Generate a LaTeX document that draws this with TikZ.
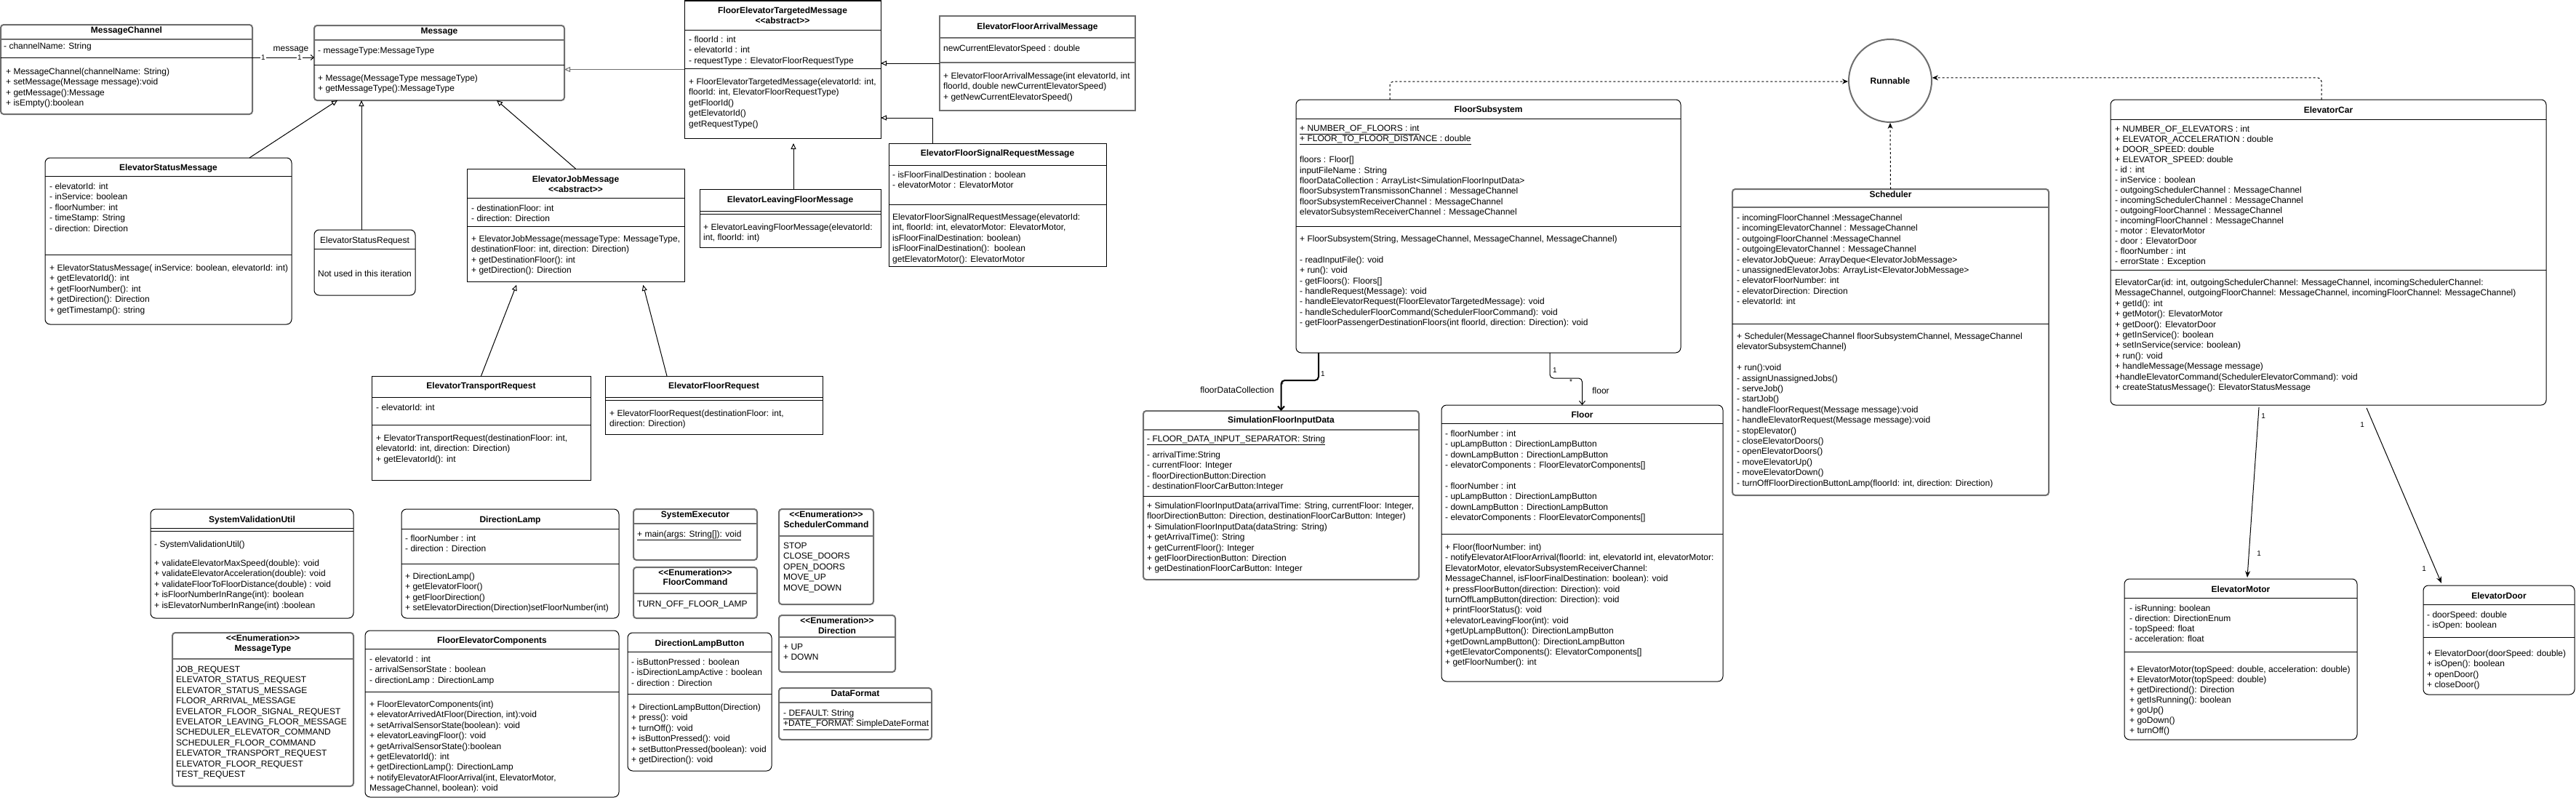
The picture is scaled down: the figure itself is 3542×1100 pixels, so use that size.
\documentclass[tikz,border=0pt]{standalone}
\usepackage{fontspec}
\setmainfont{Liberation Sans}
\usetikzlibrary{arrows.meta}
\definecolor{gcol}{RGB}{110,110,110}
\newcommand\fs{\fontsize{12}{14.4}\selectfont}
\newcommand\fsa{\fontsize{12}{14}\selectfont}
\newcommand\fss{\fontsize{10}{12}\selectfont}
\newcommand\ubox[6]{\node[#2, minimum width={(#5-#3)*1pt}, minimum height={(#6-#4)*1pt}, anchor=north west] (#1) at (#3,#4) {};}
\newcommand\hln[4][]{\draw[sepl,#1] (#2,#4) -- (#3,#4);}
\newcommand\tx[5][]{\node[txt,#1] (#2) at ({#3},{#4-5.8}) {\strut #5};}
\newcommand\tit[5][]{\node[ttl,#1] (#2) at ({#3},{#4+4.3}) {#5};}
\newcommand\stereo[1]{<{}<#1>{}>}
\tikzset{
  bx/.style={draw=black, line width=1pt, fill=white, inner sep=0pt, outer sep=0pt},
  rbx/.style={bx, rounded corners=7pt},
  gbx/.style={draw=gcol, line width=2pt, fill=white, rounded corners=4pt, inner sep=0pt, outer sep=0pt},
  gbxs/.style={gbx, rounded corners=0pt},
  sepl/.style={line width=1pt, draw=black},
  gsep/.style={line width=2pt, draw=gcol},
  txt/.style={anchor=north west, inner sep=0pt, align=left, font=\fs},
  ttl/.style={anchor=base, inner sep=0pt, font=\fs\bfseries},
  mult/.style={inner sep=1pt, font=\fss, fill=white},
  lbl/.style={inner sep=0pt, font=\fs, anchor=base},
  gen/.style={line width=1pt, -{Triangle[open, length=8pt, width=7pt]}},
  assoc/.style={line width=1pt, -{Straight Barb[length=4pt, width=7pt]}},
  real/.style={line width=1pt, dash pattern=on 3pt off 3pt, rounded corners=5pt, -{Stealth[length=8pt, width=7pt]}},
  thickarr/.style={line width=2pt, rounded corners=5pt, -{Straight Barb[length=5pt, width=9pt]}},
  openarr/.style={line width=1pt, rounded corners=5pt, -{Straight Barb[length=5pt, width=8pt]}},
  filledarr/.style={line width=1pt, -{Stealth[length=9pt, width=7pt]}}
}
\begin{document}
\begin{tikzpicture}[x=1pt,y=-1pt]
\useasboundingbox[fill=white] (0,0) rectangle (3542,1100);

% ---------- boxes ----------
\ubox{MC}{gbx}{1}{34}{347}{157}
\ubox{Msg}{gbx}{432}{35}{776}{138}
\ubox{ESM}{rbx}{62}{217}{401}{446}
\ubox{ESR}{rbx}{432}{316}{571}{406}
\ubox{EJM}{bx}{642}{232}{941}{387}
\ubox{FETM}{bx}{941}{1}{1211}{190}
\ubox{EFAM}{gbxs}{1292}{22}{1561}{152}
\ubox{EFSRM}{bx}{1222}{197}{1521}{366}
\ubox{ELFM}{bx}{962}{260}{1211}{340}
\ubox{ETR}{bx}{511}{517}{812}{660}
\ubox{EFR}{bx}{832}{517}{1131}{597}
\ubox{FS}{rbx}{1782}{137}{2311}{485}
\ubox{Sch}{gbx}{2382}{260}{2817}{681}
\ubox{EC}{rbx}{2902}{137}{3501}{557}
\ubox{SFID}{gbx}{1572}{565}{1951}{797}
\ubox{Floor}{rbx}{1982}{557}{2369}{937}
\ubox{EM}{rbx}{2921}{796}{3241}{1017}
\ubox{ED}{rbx}{3332}{805}{3540}{955}
\ubox{SVU}{rbx}{207}{700}{486}{850}
\ubox{DL}{rbx}{552}{700}{851}{850}
\ubox{SE}{gbx}{871}{700}{1041}{770}
\ubox{FC}{gbx}{871}{780}{1041}{850}
\ubox{SC}{gbx}{1071}{700}{1201}{831}
\ubox{Dir}{gbx}{1071}{846}{1231}{924}
\ubox{DF}{gbx}{1071}{946}{1281}{1017}
\ubox{MT}{gbx}{237}{870}{486}{1081}
\ubox{FEC}{rbx}{502}{867}{851}{1096}
\ubox{DLB}{rbx}{863}{870}{1061}{1060}
\node[circle, draw=gcol, line width=2pt, fill=white, minimum size=114pt, inner sep=0pt, font=\fs\bfseries] (Run) at (2599,111) {Runnable};

% ---------- separators ----------
\hln[gsep]{1}{347}{54} \hln{1}{347}{79}
\hln[gsep]{432}{776}{55} \hln{432}{776}{89}
\hln{62}{401}{242} \hln{62}{401}{350}
\hln{432}{571}{342}
\hln{642}{941}{272} \hln{642}{941}{311}
\hln{941}{1211}{41} \hln{941}{1211}{94}
\hln[gsep]{1292}{1561}{52} \hln[gsep]{1292}{1561}{86}
\hln{1222}{1521}{227} \hln{1222}{1521}{281}
\hln{962}{1211}{290} \hln{962}{1211}{294}
\hln{511}{812}{546} \hln{511}{812}{584}
\hln{832}{1131}{546} \hln{832}{1131}{550}
\hln{1782}{2311}{163} \hln{1782}{2311}{311}
\hln[gsep]{2382}{2817}{285} \hln{2382}{2817}{445}
\hln{2902}{3501}{164} \hln{2902}{3501}{371}
\hln[gsep]{1572}{1951}{591} \hln{1572}{1951}{682}
\hln{1982}{2369}{582} \hln{1982}{2369}{734}
\hln{2921}{3241}{822} \hln{2921}{3241}{896}
\hln{3332}{3540}{831} \hln{3332}{3540}{876}
\hln{207}{486}{726} \hln{207}{486}{730}
\hln{552}{851}{727} \hln{552}{851}{775}
\hln[gsep]{871}{1041}{720}
\hln[gsep]{871}{1041}{816}
\hln[gsep]{1071}{1201}{737}
\hln[gsep]{1071}{1231}{876}
\hln[gsep]{1071}{1281}{966}
\hln[gsep]{237}{486}{906}
\hln{502}{851}{892} \hln{502}{851}{951}
\hln{863}{1061}{896} \hln{863}{1061}{954}

% ---------- texts ----------
% MessageChannel
\tit{mc-t}{174}{41}{MessageChannel}
\tx{mc-a}{5}{63}{- channelName: String}
\tx{mc-m}{8}{98}{+ MessageChannel(channelName: String)\\+ setMessage(Message message):void\\+ getMessage():Message\\+ isEmpty():boolean}
% Message
\tit{msg-t}{604}{42}{Message}
\tx{msg-a}{437}{69}{- messageType:MessageType}
\tx{msg-m}{437}{107}{+ Message(MessageType messageType)\\+ getMessageType():MessageType}
% ElevatorStatusMessage
\tit{esm-t}{231.5}{230}{ElevatorStatusMessage}
\tx{esm-a}{68}{256}{- elevatorId: int\\- inService: boolean\\- floorNumber: int\\- timeStamp: String\\- direction: Direction}
\tx{esm-m}{68}{368}{+ ElevatorStatusMessage( inService: boolean, elevatorId: int)\\+ getElevatorId(): int\\+ getFloorNumber(): int\\+ getDirection(): Direction\\+ getTimestamp(): string}
% ElevatorStatusRequest
\tit[font=\fs]{esr-t}{501.5}{330}{ElevatorStatusRequest}
\tit[font=\fs]{esr-b}{501.5}{376}{Not used in this iteration}
% ElevatorJobMessage
\tit{ejm-t}{791.5}{246}{ElevatorJobMessage}
\tit{ejm-s}{791.5}{260}{\stereo{abstract}}
\tx{ejm-a}{648}{286}{- destinationFloor: int\\- direction: Direction}
\tx{ejm-m}{648}{328}{+ ElevatorJobMessage(messageType: MessageType,\\destinationFloor: int, direction: Direction)\\+ getDestinationFloor(): int\\+ getDirection(): Direction}
% FloorElevatorTargetedMessage
\tit{fetm-t}{1076}{14}{FloorElevatorTargetedMessage}
\tit{fetm-s}{1076}{28}{\stereo{abstract}}
\tx{fetm-a}{947}{54}{- floorId : int\\- elevatorId : int\\- requestType : ElevatorFloorRequestType}
\tx{fetm-m}{947}{112}{+ FloorElevatorTargetedMessage(elevatorId: int,\\floorId: int, ElevatorFloorRequestType)\\getFloorId()\\getElevatorId()\\getRequestType()}
% ElevatorFloorArrivalMessage
\tit{efam-t}{1426.5}{36}{ElevatorFloorArrivalMessage}
\tx{efam-a}{1297}{66}{newCurrentElevatorSpeed : double}
\tx{efam-m}{1297}{104}{+ ElevatorFloorArrivalMessage(int elevatorId, int\\floorId, double newCurrentElevatorSpeed)\\+ getNewCurrentElevatorSpeed()}
% ElevatorFloorSignalRequestMessage
\tit{efsrm-t}{1371.5}{210}{ElevatorFloorSignalRequestMessage}
\tx{efsrm-a}{1227}{240}{- isFloorFinalDestination : boolean\\- elevatorMotor : ElevatorMotor}
\tx{efsrm-m}{1227}{298}{ElevatorFloorSignalRequestMessage(elevatorId:\\int, floorId: int, elevatorMotor: ElevatorMotor,\\isFloorFinalDestination: boolean)\\isFloorFinalDestination():\ \ boolean\\getElevatorMotor(): ElevatorMotor}
% ElevatorLeavingFloorMessage
\tit{elfm-t}{1086.5}{274}{ElevatorLeavingFloorMessage}
\tx{elfm-m}{967}{312}{+ ElevatorLeavingFloorMessage(elevatorId:\\int, floorId: int)}
% ElevatorTransportRequest
\tit{etr-t}{661.5}{530}{ElevatorTransportRequest}
\tx{etr-a}{517}{560}{- elevatorId: int}
\tx{etr-m}{517}{602}{+ ElevatorTransportRequest(destinationFloor: int,\\elevatorId: int, direction: Direction)\\+ getElevatorId(): int}
% ElevatorFloorRequest
\tit{efr-t}{981.5}{530}{ElevatorFloorRequest}
\tx{efr-m}{838}{568}{+ ElevatorFloorRequest(destinationFloor: int,\\direction: Direction)}
% FloorSubsystem
\tit{fs-t}{2046.5}{150}{FloorSubsystem}
\tx{fs-a}{1787}{176}{\underline{+ NUMBER\_OF\_FLOORS : int}\\\underline{+ FLOOR\_TO\_FLOOR\_DISTANCE : double}\\[14.4pt]floors : Floor[]\\inputFileName : String\\floorDataCollection : ArrayList<SimulationFloorInputData>\\floorSubsystemTransmissonChannel : MessageChannel\\floorSubsystemReceiverChannel : MessageChannel\\elevatorSubsystemReceiverChannel : MessageChannel}
\tx{fs-m}{1787}{328}{+ FloorSubsystem(String, MessageChannel, MessageChannel, MessageChannel)\\[14.4pt]- readInputFile(): void\\+ run(): void\\- getFloors(): Floors[]\\- handleRequest(Message): void\\- handleElevatorRequest(FloorElevatorTargetedMessage): void\\- handleSchedulerFloorCommand(SchedulerFloorCommand): void\\- getFloorPassengerDestinationFloors(int floorId, direction: Direction): void}
% Scheduler
\tit{sch-t}{2599.5}{267}{Scheduler}
\tx{sch-a}{2388}{299}{- incomingFloorChannel :MessageChannel\\- incomingElevatorChannel : MessageChannel\\- outgoingFloorChannel :MessageChannel\\- outgoingElevatorChannel : MessageChannel\\- elevatorJobQueue: ArrayDeque<ElevatorJobMessage>\\- unassignedElevatorJobs: ArrayList<ElevatorJobMessage>\\- elevatorFloorNumber: int\\- elevatorDirection: Direction\\- elevatorId: int}
\tx{sch-m}{2388}{462}{+ Scheduler(MessageChannel floorSubsystemChannel, MessageChannel\\elevatorSubsystemChannel)\\[14.4pt]+ run():void\\- assignUnassignedJobs()\\- serveJob()\\- startJob()\\- handleFloorRequest(Message message):void\\- handleElevatorRequest(Message message):void\\- stopElevator()\\- closeElevatorDoors()\\- openElevatorDoors()\\- moveElevatorUp()\\- moveElevatorDown()\\- turnOffFloorDirectionButtonLamp(floorId: int, direction: Direction)}
% ElevatorCar
\tit{ec-t}{3201.5}{151}{ElevatorCar}
\tx[font=\fsa]{ec-a}{2908}{177}{+ NUMBER\_OF\_ELEVATORS : int\\+ ELEVATOR\_ACCELERATION : double\\+ DOOR\_SPEED: double\\+ ELEVATOR\_SPEED: double\\- id : int\\- inService : boolean\\- outgoingSchedulerChannel : MessageChannel\\- incomingSchedulerChannel : MessageChannel\\- outgoingFloorChannel : MessageChannel\\- incomingFloorChannel : MessageChannel\\- motor : ElevatorMotor\\- door : ElevatorDoor\\- floorNumber : int\\- errorState : Exception}
\tx{ec-m}{2908}{388}{ElevatorCar(id: int, outgoingSchedulerChannel: MessageChannel, incomingSchedulerChannel:\\MessageChannel, outgoingFloorChannel: MessageChannel, incomingFloorChannel: MessageChannel)\\+ getId(): int\\+ getMotor(): ElevatorMotor\\+ getDoor(): ElevatorDoor\\+ getInService(): boolean\\+ setInService(service: boolean)\\+ run(): void\\+ handleMessage(Message message)\\+handleElevatorCommand(SchedulerElevatorCommand): void\\+ createStatusMessage(): ElevatorStatusMessage}
% SimulationFloorInputData
\tit{sfid-t}{1761.5}{577}{SimulationFloorInputData}
\tx{sfid-s}{1577}{603}{\underline{- FLOOR\_DATA\_INPUT\_SEPARATOR: String}}
\tx{sfid-a}{1577}{625}{- arrivalTime:String\\- currentFloor: Integer\\- floorDirectionButton:Direction\\- destinationFloorCarButton:Integer}
\tx{sfid-m}{1577}{695}{+ SimulationFloorInputData(arrivalTime: String, currentFloor: Integer,\\floorDirectionButton: Direction, destinationFloorCarButton: Integer)\\+ SimulationFloorInputData(dataString: String)\\+ getArrivalTime(): String\\+ getCurrentFloor(): Integer\\+ getFloorDirectionButton: Direction\\+ getDestinationFloorCarButton: Integer}
% Floor
\tit{fl-t}{2175.5}{570}{Floor}
\tx{fl-a}{1987}{596}{- floorNumber : int\\- upLampButton : DirectionLampButton\\- downLampButton : DirectionLampButton\\- elevatorComponents : FloorElevatorComponents[]\\[14.4pt]- floorNumber : int\\- upLampButton : DirectionLampButton\\- downLampButton : DirectionLampButton\\- elevatorComponents : FloorElevatorComponents[]}
\tx{fl-m}{1987}{752}{+ Floor(floorNumber: int)\\- notifyElevatorAtFloorArrival(floorId: int, elevatorId int, elevatorMotor:\\ElevatorMotor, elevatorSubsystemReceiverChannel:\\MessageChannel, isFloorFinalDestination: boolean): void\\+ pressFloorButton(direction: Direction): void\\turnOffLampButton(direction: Direction): void\\+ printFloorStatus(): void\\+elevatorLeavingFloor(int): void\\+getUpLampButton(): DirectionLampButton\\+getDownLampButton(): DirectionLampButton\\+getElevatorComponents(): ElevatorComponents[]\\+ getFloorNumber(): int}
% ElevatorMotor
\tit{em-t}{3081}{810}{ElevatorMotor}
\tx[font=\fsa]{em-a}{2928}{836}{- isRunning: boolean\\- direction: DirectionEnum\\- topSpeed: float\\- acceleration: float}
\tx[font=\fsa]{em-m}{2928}{920}{+ ElevatorMotor(topSpeed: double, acceleration: double)\\+ ElevatorMotor(topSpeed: double)\\+ getDirectiond(): Direction\\+ getIsRunning(): boolean\\+ goUp()\\+ goDown()\\+ turnOff()}
% ElevatorDoor
\tit{ed-t}{3436}{819}{ElevatorDoor}
\tx{ed-a}{3337}{845}{- doorSpeed: double\\- isOpen: boolean}
\tx{ed-m}{3337}{898}{+ ElevatorDoor(doorSpeed: double)\\+ isOpen(): boolean\\+ openDoor()\\+ closeDoor()}
% SystemValidationUtil
\tit{svu-t}{346.5}{714}{SystemValidationUtil}
\tx{svu-c}{212}{748}{- SystemValidationUtil()}
\tx{svu-m}{212}{774}{+ validateElevatorMaxSpeed(double): void\\+ validateElevatorAcceleration(double): void\\+ validateFloorToFloorDistance(double) : void\\+ isFloorNumberInRange(int): boolean\\+ isElevatorNumberInRange(int) :boolean}
% DirectionLamp
\tit{dl-t}{701.5}{714}{DirectionLamp}
\tx[font=\fsa]{dl-a}{557}{740}{- floorNumber : int\\- direction : Direction}
\tx{dl-m}{557}{792}{+ DirectionLamp()\\+ getElevatorFloor()\\+ getFloorDirection()\\+ setElevatorDirection(Direction)setFloorNumber(int)}
% MessageType
\tit{mt-s}{361.5}{877}{\stereo{Enumeration}}
\tit{mt-t}{361.5}{891}{MessageType}
\tx{mt-v}{242}{920}{JOB\_REQUEST\\ELEVATOR\_STATUS\_REQUEST\\ELEVATOR\_STATUS\_MESSAGE\\FLOOR\_ARRIVAL\_MESSAGE\\EVELATOR\_FLOOR\_SIGNAL\_REQUEST\\EVELATOR\_LEAVING\_FLOOR\_MESSAGE\\SCHEDULER\_ELEVATOR\_COMMAND\\SCHEDULER\_FLOOR\_COMMAND\\ELEVATOR\_TRANSPORT\_REQUEST\\ELEVATOR\_FLOOR\_REQUEST\\TEST\_REQUEST}
% FloorElevatorComponents
\tit{fec-t}{676.5}{880}{FloorElevatorComponents}
\tx{fec-a}{508}{906}{- elevatorId : int\\- arrivalSensorState : boolean\\- directionLamp : DirectionLamp}
\tx{fec-m}{508}{968}{+ FloorElevatorComponents(int)\\+ elevatorArrivedAtFloor(Direction, int):void\\+ setArrivalSensorState(boolean): void\\+ elevatorLeavingFloor(): void\\+ getArrivalSensorState():boolean\\+ getElevatorId(): int\\+ getDirectionLamp(): DirectionLamp\\+ notifyElevatorAtFloorArrival(int, ElevatorMotor,\\MessageChannel, boolean): void}
% SystemExecutor
\tit{se-t}{956}{707}{SystemExecutor}
\tx{se-m}{876}{734}{\underline{+ main(args: String[]): void}}
% FloorCommand
\tit{fc-s}{956}{787}{\stereo{Enumeration}}
\tit{fc-t}{956}{800}{FloorCommand}
\tx{fc-v}{876}{830}{TURN\_OFF\_FLOOR\_LAMP}
% DirectionLampButton
\tit{dlb-t}{962}{884}{DirectionLampButton}
\tx{dlb-a}{868}{910}{- isButtonPressed : boolean\\- isDirectionLampActive : boolean\\- direction : Direction}
\tx{dlb-m}{868}{972}{+ DirectionLampButton(Direction)\\+ press(): void\\+ turnOff(): void\\+ isButtonPressed(): void\\+ setButtonPressed(boolean): void\\+ getDirection(): void}
% SchedulerCommand
\tit{sc-s}{1136}{707}{\stereo{Enumeration}}
\tit{sc-t}{1136}{721}{SchedulerCommand}
\tx{sc-v}{1077}{750}{STOP\\CLOSE\_DOORS\\OPEN\_DOORS\\MOVE\_UP\\MOVE\_DOWN}
% Direction
\tit{dir-s}{1151}{853}{\stereo{Enumeration}}
\tit{dir-t}{1151}{867}{Direction}
\tx{dir-v}{1077}{889}{+ UP\\+ DOWN}
% DataFormat
\tit{df-t}{1176}{953}{DataFormat}
\tx{df-v}{1077}{980}{\underline{- DEFAULT: String}\\\underline{+DATE\_FORMAT: SimpleDateFormat}}

% ---------- connectors ----------
\draw[assoc] ([yshift=16.5pt]MC.east) -- ([yshift=7.5pt]Msg.west);
\node[mult] (mc-1) at (362,79) {1};
\node[mult] (msg-1) at (412,79) {1};
\node[lbl] (msg-l) at (400,70.3) {message};

\draw[gen, draw=gcol] (FETM.west) -- ([yshift=-9pt]Msg.east);
\draw[gen] (EFAM.west) -- ([yshift=8.5pt]FETM.east);
\draw[gen] ([xshift=-89.5pt]EFSRM.north) |- ([yshift=-66.5pt]FETM.east);
\draw[gen, shorten >=7pt] ([xshift=4.5pt]ELFM.north) -- ([xshift=15pt]FETM.south);
\draw[gen] ([xshift=111.5pt]ESM.north) -- ([xshift=-140pt]Msg.south);
\draw[gen] ([xshift=-4.5pt]ESR.north) -- ([xshift=-107pt]Msg.south);
\draw[gen] (EJM.north) -- ([xshift=79pt]Msg.south);
\draw[gen, shorten >=5pt] (ETR.north) -- ([xshift=-79.5pt]EJM.south);
\draw[gen, shorten >=5pt] ([xshift=-64.5pt]EFR.north) -- ([xshift=91.5pt]EJM.south);

\draw[real] ([xshift=-135.5pt]FS.north) |- (Run.181);
\draw[real] ([xshift=-9.5pt]EC.north) |- (Run.4);
\draw[real] (Sch.north) -- (Run.south);

\draw[thickarr] ([xshift=-233.5pt]FS.south) -- ++(0,38) -| (SFID.north);
\node[inner sep=0pt, font=\fss, anchor=west] (fdc-1) at (1816,514) {1};
\node[inner sep=0pt, font=\fss] (fdc-s) at (1763,529) {*};
\node[lbl] (fdc-l) at (1701,540.3) {floorDataCollection};

\draw[openarr] ([xshift=84.5pt]FS.south) -- ++(0,35) -| (Floor.north);
\node[inner sep=0pt, font=\fss, anchor=west] (fl-1) at (2135,509) {1};
\node[inner sep=0pt, font=\fss] (fl-s) at (2160,525) {*};
\node[lbl] (fl-l) at (2201,541.3) {floor};

\draw[filledarr] ([xshift=-95.5pt,yshift=-3pt]EC.south) -- ([xshift=9pt,yshift=2pt]EM.north);
\node[inner sep=0pt, font=\fss] (em-1a) at (3112,572) {1};
\node[inner sep=0pt, font=\fss] (em-1b) at (3106,761) {1};
\draw[filledarr] ([xshift=52.5pt,yshift=-4pt]EC.south) -- ([xshift=-79pt,yshift=3pt]ED.north);
\node[inner sep=0pt, font=\fss] (ed-1a) at (3248,584) {1};
\node[inner sep=0pt, font=\fss] (ed-1b) at (3333,782) {1};
\end{tikzpicture}
\end{document}
